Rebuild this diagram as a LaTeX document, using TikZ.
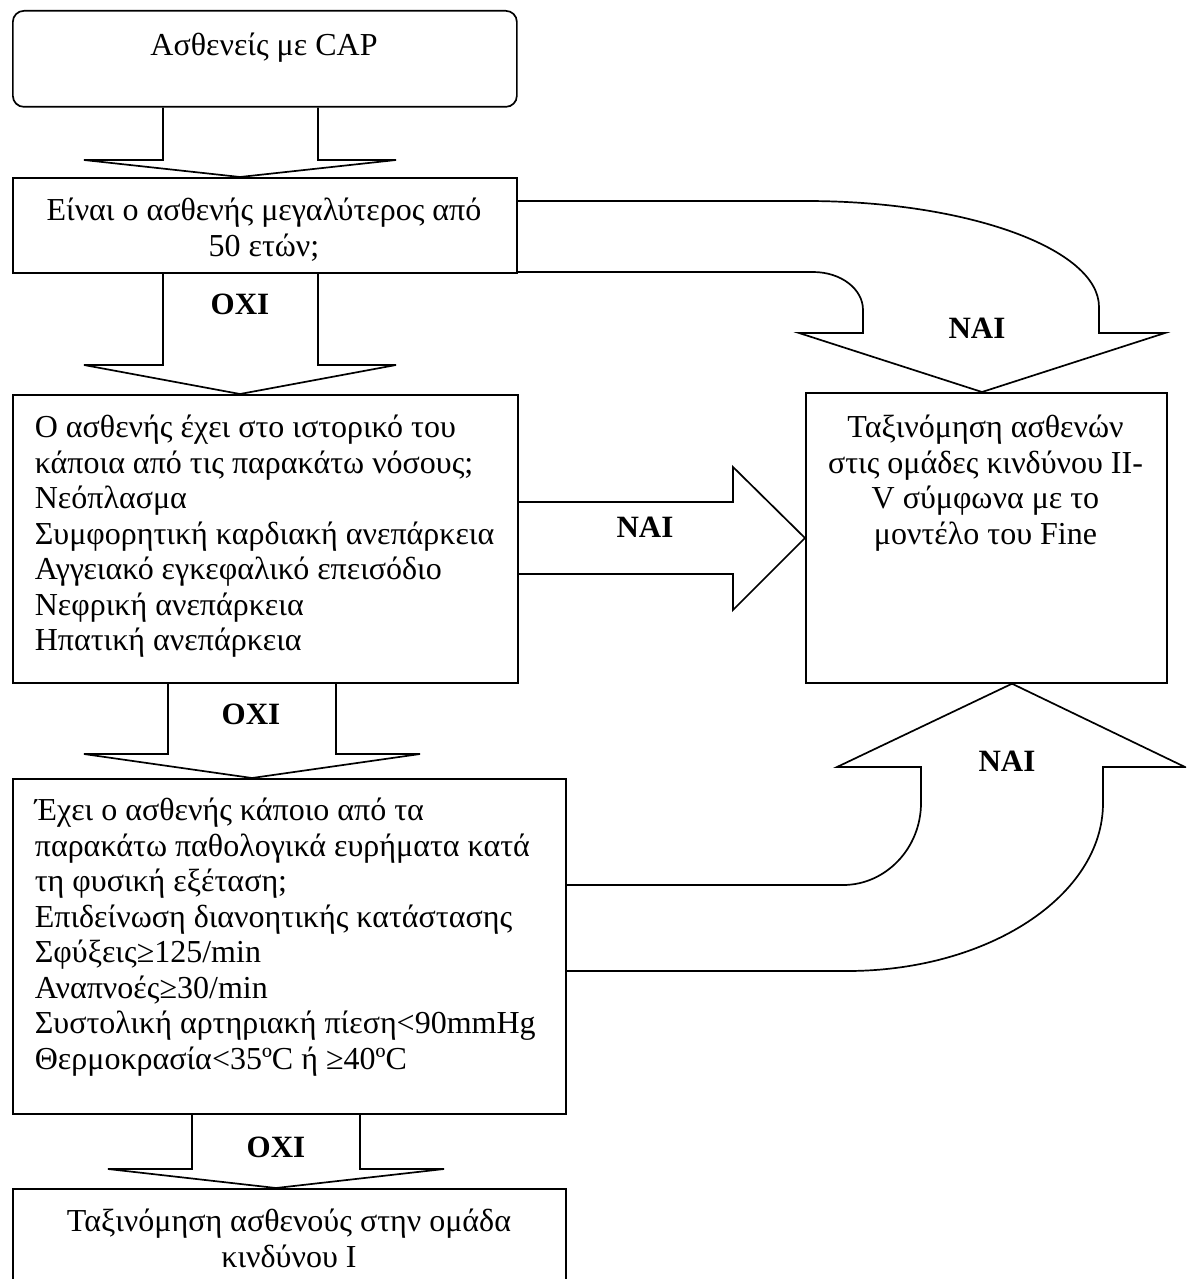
\documentclass[tikz,border=0pt]{standalone}
\usepackage{fontspec}
\setmainfont{Liberation Serif}
\begin{document}
\begin{tikzpicture}[x=1pt,y=-1pt,line width=1.7pt,
  box/.style={draw,rectangle,inner sep=0pt,anchor=north west},
  txt/.style={inner sep=0pt,font=\fontsize{32}{35.5}\selectfont},
  lbl/.style={inner sep=0pt,font=\fontsize{31}{35.5}\selectfont\bfseries},
  blk/.style={draw,line join=miter}]
\useasboundingbox (0,0) rectangle (1186,1279);
\clip (0,0) rectangle (1186,1279);

% boxes
\node[box,rounded corners=11pt,minimum width=504pt,minimum height=96pt] (b1) at (12,10) {};
\node[box,minimum width=504pt,minimum height=95pt] (b2) at (12,177) {};
\node[box,minimum width=505pt,minimum height=288pt] (b3) at (12,394) {};
\node[box,minimum width=553pt,minimum height=335pt] (b4) at (12,778) {};
\node[box,minimum width=553pt,minimum height=130pt] (b5) at (12,1188) {};
\node[box,minimum width=361pt,minimum height=290pt] (br) at (805,392) {};

% texts
\node[txt,anchor=north] (t1) at (264,30) {\strut Ασθενείς με CAP};
\node[txt,anchor=north,align=center] (t2) at (264,195) {\strut Είναι ο ασθενής μεγαλύτερος από\\50 ετών;};
\node[txt,anchor=north west,align=left] (t3) at (34,412) {\strut Ο ασθενής έχει στο ιστορικό του\\κάποια από τις παρακάτω νόσους;\\Νεόπλασμα\\Συμφορητική καρδιακή ανεπάρκεια\\Αγγειακό εγκεφαλικό επεισόδιο\\Νεφρική ανεπάρκεια\\Ηπατική ανεπάρκεια};
\node[txt,anchor=north west,align=left] (t4) at (34,795) {\strut Έχει ο ασθενής κάποιο από τα\\παρακάτω παθολογικά ευρήματα κατά\\τη φυσική εξέταση;\\Επιδείνωση διανοητικής κατάστασης\\Σφύξεις≥125/min\\Αναπνοές≥30/min\\Συστολική αρτηριακή πίεση<90mmHg\\Θερμοκρασία<35ºC ή ≥40ºC};
\node[txt,anchor=north,align=center] (tr) at (985.5,412) {\strut Ταξινόμηση ασθενών\\στις ομάδες κινδύνου II-\\V σύμφωνα με το\\μοντέλο του Fine};
\node[txt,anchor=north,align=center] (t5) at (289,1206) {\strut Ταξινόμηση ασθενούς στην ομάδα\\κινδύνου Ι};

% straight down block arrows
\draw[blk] (163,0 |- b1.south) -- (163,160) -- (84,160) -- (240,0 |- b2.north) -- (396,160) -- (318,160) -- (318,0 |- b1.south);
\draw[blk] (163,0 |- b2.south) -- (163,365) -- (84,365) -- (240,0 |- b3.north) -- (396,365) -- (318,365) -- (318,0 |- b2.south);
\draw[blk] (168,0 |- b3.south) -- (168,754) -- (84,754) -- (252,0 |- b4.north) -- (420,754) -- (336,754) -- (336,0 |- b3.south);
\draw[blk] (192,0 |- b4.south) -- (192,1169) -- (108,1169) -- (276,0 |- b5.north) -- (444,1169) -- (360,1169) -- (360,0 |- b4.south);

% horizontal block arrow b3 -> br
\draw[blk] (b3.east |- 0,502) -- (733,502) -- (733,467) -- (br.west |- 0,538) -- (733,610) -- (733,574) -- (b3.east |- 0,574);

% curved block arrow b2 -> br (top)
\draw[blk] (b2.east |- 0,201) -- (806,201)
  .. controls (968,201) and (1099,249) .. (1099,307)
  -- (1099,333) -- (1165,333) -- (982,0 |- br.north) -- (799,333) -- (863,333) -- (863,310)
  .. controls (863,289) and (841,272) .. (813,272)
  -- (b2.east |- 0,272);

% curved block arrow b4 -> br (bottom)
\draw[blk] (b4.east |- 0,885) -- (843,885)
  .. controls (886,885) and (921,848) .. (921,803)
  -- (921,767) -- (837,767) -- (1012,0 |- br.south) -- (1185,767) -- (1103,767) -- (1103,803)
  .. controls (1103,896) and (988,971) .. (847,971)
  -- (b4.east |- 0,971);

% labels
\node[lbl] (l1) at (240,304) {ΟΧΙ};
\node[lbl] (l2) at (251,714) {ΟΧΙ};
\node[lbl] (l3) at (276,1147) {ΟΧΙ};
\node[lbl] (l4) at (977,328) {ΝΑΙ};
\node[lbl] (l5) at (645,527) {ΝΑΙ};
\node[lbl] (l6) at (1007,761) {ΝΑΙ};
\end{tikzpicture}
\end{document}
